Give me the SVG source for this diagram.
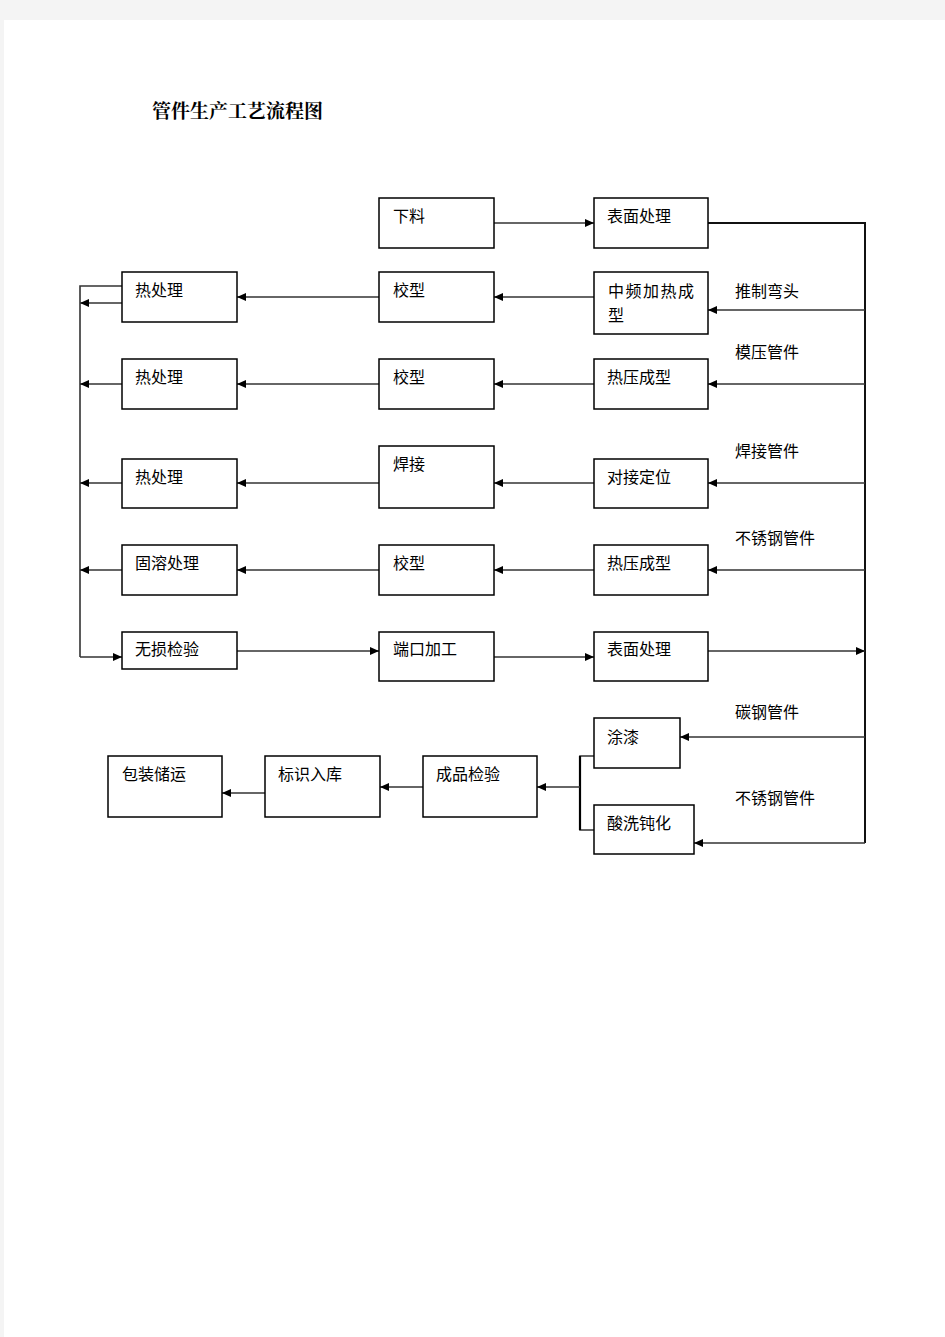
<svg xmlns="http://www.w3.org/2000/svg" width="945" height="1337" viewBox="0 0 945 1337">
<style>
.box{fill:#fff;stroke:#000;stroke-width:1.5}
.t{font-family:"Noto Sans CJK SC","Noto Sans CJK JP",sans-serif;font-size:16px;fill:#000}
.ln{stroke:#333;stroke-width:1.6;fill:none}
.bus{stroke:#111;stroke-width:2;fill:none}
.title{font-family:"Noto Serif CJK SC","Noto Sans CJK SC",serif;font-size:19px;font-weight:700;fill:#000}
</style>
<defs>
<marker id="arr" markerUnits="userSpaceOnUse" markerWidth="9" markerHeight="8" viewBox="0 0 10 10" refX="10" refY="5" orient="auto" preserveAspectRatio="none">
<path d="M0,0 L10,5 L0,10 z" fill="#000"/>
</marker>
</defs>
<rect x="0" y="0" width="945" height="1337" fill="#f4f4f4"/>
<rect x="4" y="20" width="941" height="1317" fill="#fff"/>
<text class="title" x="152" y="118">管件生产工艺流程图</text>

<g id="connectors">
<!-- right bus -->
<path class="bus" d="M708,223 H865 V843"/>
<line class="ln" x1="494" y1="223" x2="594" y2="223" marker-end="url(#arr)"/>
<!-- row 1 -->
<line class="ln" x1="865" y1="310" x2="708" y2="310" marker-end="url(#arr)"/>
<line class="ln" x1="594" y1="297" x2="494" y2="297" marker-end="url(#arr)"/>
<line class="ln" x1="379" y1="297" x2="237" y2="297" marker-end="url(#arr)"/>
<line class="ln" x1="122" y1="303" x2="80" y2="303" marker-end="url(#arr)"/>
<path class="ln" d="M122,286 H80 V657"/>
<!-- row 2 -->
<line class="ln" x1="865" y1="384" x2="708" y2="384" marker-end="url(#arr)"/>
<line class="ln" x1="594" y1="384" x2="494" y2="384" marker-end="url(#arr)"/>
<line class="ln" x1="379" y1="384" x2="237" y2="384" marker-end="url(#arr)"/>
<line class="ln" x1="122" y1="384" x2="80" y2="384" marker-end="url(#arr)"/>
<!-- row 3 -->
<line class="ln" x1="865" y1="483" x2="708" y2="483" marker-end="url(#arr)"/>
<line class="ln" x1="594" y1="483" x2="494" y2="483" marker-end="url(#arr)"/>
<line class="ln" x1="379" y1="483" x2="237" y2="483" marker-end="url(#arr)"/>
<line class="ln" x1="122" y1="483" x2="80" y2="483" marker-end="url(#arr)"/>
<!-- row 4 -->
<line class="ln" x1="865" y1="570" x2="708" y2="570" marker-end="url(#arr)"/>
<line class="ln" x1="594" y1="570" x2="494" y2="570" marker-end="url(#arr)"/>
<line class="ln" x1="379" y1="570" x2="237" y2="570" marker-end="url(#arr)"/>
<line class="ln" x1="122" y1="570" x2="80" y2="570" marker-end="url(#arr)"/>
<!-- row 5 -->
<line class="ln" x1="80" y1="657" x2="122" y2="657" marker-end="url(#arr)"/>
<line class="ln" x1="237" y1="651" x2="379" y2="651" marker-end="url(#arr)"/>
<line class="ln" x1="494" y1="657" x2="594" y2="657" marker-end="url(#arr)"/>
<line class="ln" x1="708" y1="651" x2="865" y2="651" marker-end="url(#arr)"/>
<!-- finishing -->
<line class="ln" x1="865" y1="737" x2="680" y2="737" marker-end="url(#arr)"/>
<line class="ln" x1="865" y1="843" x2="694" y2="843" marker-end="url(#arr)"/>
<path class="ln" d="M594,756 H580 V830 H594"/>
<line x1="580" y1="756" x2="580" y2="830" stroke="#000" stroke-width="2.2"/>
<line class="ln" x1="580" y1="787" x2="537" y2="787" marker-end="url(#arr)"/>
<line class="ln" x1="423" y1="787" x2="380" y2="787" marker-end="url(#arr)"/>
<line class="ln" x1="265" y1="793" x2="222" y2="793" marker-end="url(#arr)"/>
</g>

<g id="n-xialiao"><rect class="box" x="379" y="198" width="115" height="50"/><text class="t" x="393" y="222">下料</text></g>
<g id="n-biaomian1"><rect class="box" x="594" y="198" width="114" height="50"/><text class="t" x="607" y="222">表面处理</text></g>

<g id="n-rechuli1"><rect class="box" x="122" y="272" width="115" height="50"/><text class="t" x="135" y="296">热处理</text></g>
<g id="n-jiaoxing1"><rect class="box" x="379" y="272" width="115" height="50"/><text class="t" x="393" y="296">校型</text></g>
<g id="n-zhongpin"><rect class="box" x="594" y="272" width="114" height="62"/><text class="t" x="608" y="297" letter-spacing="1.5">中频加热成</text><text class="t" x="608" y="321">型</text></g>

<g id="n-rechuli2"><rect class="box" x="122" y="359" width="115" height="50"/><text class="t" x="135" y="383">热处理</text></g>
<g id="n-jiaoxing2"><rect class="box" x="379" y="359" width="115" height="50"/><text class="t" x="393" y="383">校型</text></g>
<g id="n-reya1"><rect class="box" x="594" y="359" width="114" height="50"/><text class="t" x="607" y="383">热压成型</text></g>

<g id="n-rechuli3"><rect class="box" x="122" y="459" width="115" height="49"/><text class="t" x="135" y="483">热处理</text></g>
<g id="n-hanjie"><rect class="box" x="379" y="446" width="115" height="62"/><text class="t" x="393" y="470">焊接</text></g>
<g id="n-duijie"><rect class="box" x="594" y="459" width="114" height="49"/><text class="t" x="607" y="483">对接定位</text></g>

<g id="n-gurong"><rect class="box" x="122" y="545" width="115" height="50"/><text class="t" x="135" y="569">固溶处理</text></g>
<g id="n-jiaoxing3"><rect class="box" x="379" y="545" width="115" height="50"/><text class="t" x="393" y="569">校型</text></g>
<g id="n-reya2"><rect class="box" x="594" y="545" width="114" height="50"/><text class="t" x="607" y="569">热压成型</text></g>

<g id="n-wusun"><rect class="box" x="122" y="632" width="115" height="37"/><text class="t" x="135" y="655">无损检验</text></g>
<g id="n-duankou"><rect class="box" x="379" y="632" width="115" height="49"/><text class="t" x="393" y="655">端口加工</text></g>
<g id="n-biaomian2"><rect class="box" x="594" y="632" width="114" height="49"/><text class="t" x="607" y="655">表面处理</text></g>

<g id="n-tuqi"><rect class="box" x="594" y="718" width="86" height="50"/><text class="t" x="607" y="743">涂漆</text></g>
<g id="n-suanxi"><rect class="box" x="594" y="805" width="100" height="49"/><text class="t" x="607" y="829">酸洗钝化</text></g>
<g id="n-chengpin"><rect class="box" x="423" y="756" width="114" height="61"/><text class="t" x="436" y="780">成品检验</text></g>
<g id="n-biaoshi"><rect class="box" x="265" y="756" width="115" height="61"/><text class="t" x="278" y="780">标识入库</text></g>
<g id="n-baozhuang"><rect class="box" x="108" y="756" width="114" height="61"/><text class="t" x="122" y="780">包装储运</text></g>

<g id="labels">
<text class="t" x="735" y="297">推制弯头</text>
<text class="t" x="735" y="358">模压管件</text>
<text class="t" x="735" y="457">焊接管件</text>
<text class="t" x="735" y="544">不锈钢管件</text>
<text class="t" x="735" y="718">碳钢管件</text>
<text class="t" x="735" y="804">不锈钢管件</text>
</g>
</svg>
